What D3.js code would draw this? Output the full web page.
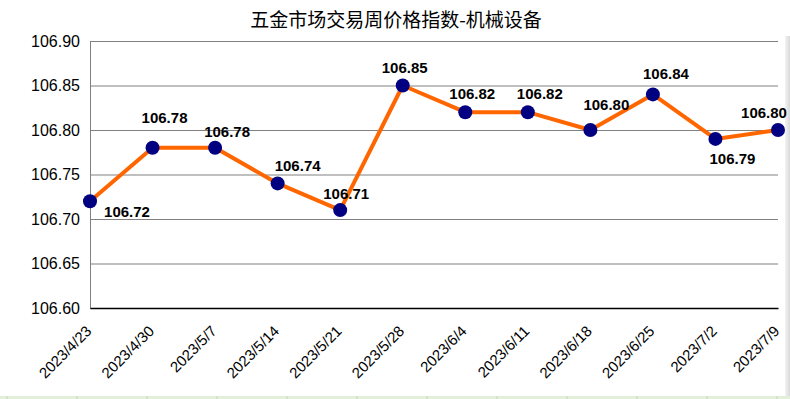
<!DOCTYPE html>
<html>
<head>
<meta charset="utf-8">
<script src="https://cdn.jsdelivr.net/npm/d3@7"></script>
<style>
  html, body { margin: 0; padding: 0; background: #fff; overflow: hidden; }
  svg { display: block; }
</style>
</head>
<body>
<div id="chart"></div>
<script>
const title = '五金市场交易周价格指数-机械设备';
const dates = ['2023/4/23', '2023/4/30', '2023/5/7', '2023/5/14', '2023/5/21', '2023/5/28',
  '2023/6/4', '2023/6/11', '2023/6/18', '2023/6/25', '2023/7/2', '2023/7/9'];
const values = [106.72, 106.78, 106.78, 106.74, 106.71, 106.85,
  106.82, 106.82, 106.80, 106.84, 106.79, 106.80];
const yTicks = [106.60, 106.65, 106.70, 106.75, 106.80, 106.85, 106.90];

// where each value label sits relative to its point
const labelOffsets = [[37, 16], [12, -25], [12, -11], [20, -12], [6, -11], [2, -13],
  [7, -13], [12, -13], [16, -20], [13, -15], [17, 25], [-14, -12]];

const width = 790, height = 399;
const margin = { top: 41, right: 12, bottom: 91, left: 90 };

const svg = d3.select('#chart').append('svg')
  .attr('width', width)
  .attr('height', height);

// spreadsheet remnants around the chart object
svg.append('rect').attr('x', 0).attr('y', 396).attr('width', width).attr('height', 3)
  .attr('fill', '#e2efda');
d3.range(7, width, 70).forEach(x => {
  svg.append('line').attr('x1', x).attr('x2', x).attr('y1', 396).attr('y2', 399)
    .attr('stroke', '#c6d9bb');
});
const shadow = svg.append('defs').append('linearGradient').attr('id', 'shadow');
shadow.append('stop').attr('offset', '0%').attr('stop-color', '#f4f4f4');
shadow.append('stop').attr('offset', '100%').attr('stop-color', '#d8d8d8');
svg.append('rect').attr('x', 785).attr('y', 36).attr('width', 5).attr('height', 360)
  .attr('fill', 'url(#shadow)');

const x = d3.scalePoint()
  .domain(dates)
  .range([margin.left, width - margin.right]);

const y = d3.scaleLinear()
  .domain([106.60, 106.90])
  .range([height - margin.bottom, margin.top]);

svg.append('text')
  .attr('x', 396).attr('y', 27)
  .attr('text-anchor', 'middle')
  .attr('font-family', '"Noto Sans CJK SC", sans-serif')
  .attr('font-size', 19)
  .attr('fill', '#000')
  .text(title);

// gridlines + y labels
const yAxis = svg.append('g')
  .attr('transform', `translate(${margin.left},0)`)
  .call(d3.axisLeft(y).tickValues(yTicks).tickFormat(d3.format('.2f'))
    .tickSize(-(width - margin.left - margin.right)).tickPadding(10));
yAxis.select('.domain').attr('stroke', '#808080');
yAxis.selectAll('.tick line').attr('stroke', '#808080');
yAxis.selectAll('.tick text')
  .attr('font-family', '"Liberation Sans", Arial, sans-serif')
  .attr('font-size', 16)
  .attr('fill', '#000');

// x axis
const xAxis = svg.append('g')
  .attr('transform', `translate(0,${height - margin.bottom})`)
  .call(d3.axisBottom(x).tickSize(0));
xAxis.select('.domain').attr('stroke', '#000').attr('stroke-width', 1.5);
xAxis.selectAll('.tick text')
  .attr('font-family', '"Liberation Sans", Arial, sans-serif')
  .attr('font-size', 15)
  .attr('fill', '#000')
  .attr('text-anchor', 'end')
  .attr('y', 0).attr('dy', 0)
  .attr('transform', 'translate(2,24) rotate(-45)');

const line = d3.line()
  .x((d, i) => x(dates[i]))
  .y(d => y(d));

svg.append('path')
  .attr('d', line(values))
  .attr('fill', 'none')
  .attr('stroke', '#ff6600')
  .attr('stroke-width', 4)
  .attr('stroke-linejoin', 'round');

svg.append('g').selectAll('circle')
  .data(values)
  .join('circle')
  .attr('cx', (d, i) => x(dates[i]))
  .attr('cy', d => y(d))
  .attr('r', 7)
  .attr('fill', '#000080');

svg.append('g').selectAll('text')
  .data(values)
  .join('text')
  .attr('x', (d, i) => x(dates[i]) + labelOffsets[i][0])
  .attr('y', (d, i) => y(d) + labelOffsets[i][1])
  .attr('text-anchor', 'middle')
  .attr('font-family', '"Liberation Sans", Arial, sans-serif')
  .attr('font-size', 15)
  .attr('font-weight', 'bold')
  .attr('fill', '#000')
  .text(d => d.toFixed(2));
</script>
</body>
</html>
